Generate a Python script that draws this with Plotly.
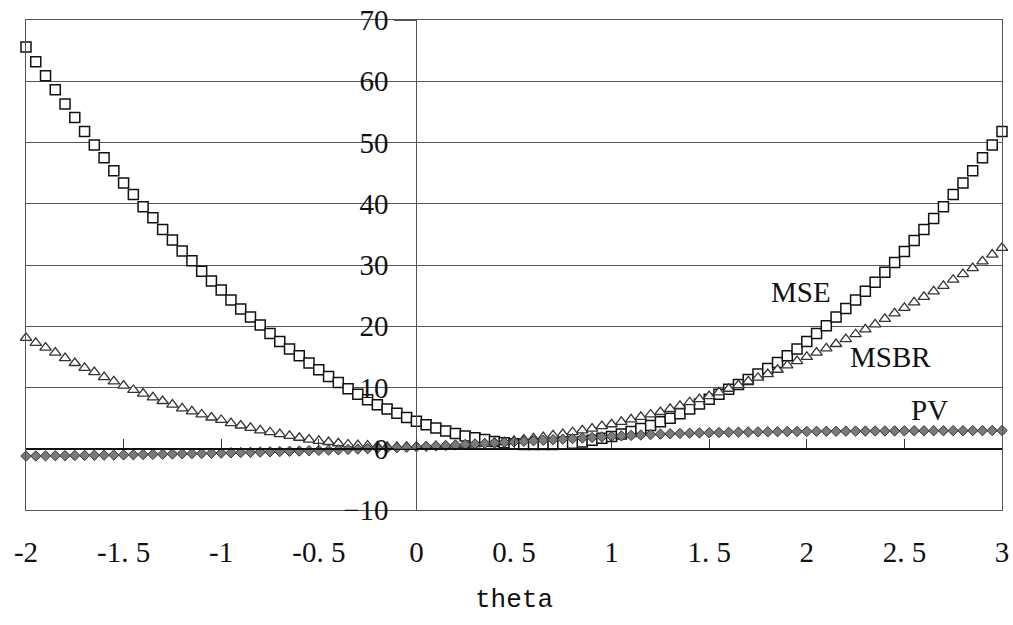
import plotly.graph_objects as go

theta = [round(-2 + 0.05 * i, 2) for i in range(101)]

mse = [65.6, 63.2, 60.9, 58.6, 56.3, 54.1, 51.8, 49.6, 47.5, 45.4,
       43.4, 41.5, 39.5, 37.7, 35.8, 34.1, 32.3, 30.7, 29.0, 27.4,
       25.9, 24.3, 22.8, 21.5, 20.2, 18.8, 17.5, 16.3, 15.2, 14.0,
       12.9, 11.8, 10.8, 9.8, 8.9, 8.0, 7.2, 6.5, 5.8, 5.1,
       4.5, 3.9, 3.4, 2.9, 2.5, 2.1, 1.8, 1.5, 1.2, 1.0,
       0.8, 0.7, 0.7, 0.7, 0.7, 0.8, 0.9, 1.1, 1.4, 1.7,
       2.0, 2.4, 2.8, 3.3, 3.8, 4.4, 5.0, 5.7, 6.5, 7.3,
       8.1, 8.9, 9.7, 10.5, 11.3, 12.2, 13.1, 14.1, 15.2, 16.3,
       17.5, 18.8, 20.1, 21.5, 22.9, 24.3, 25.7, 27.2, 28.8, 30.4,
       32.2, 34.0, 35.8, 37.6, 39.5, 41.5, 43.4, 45.4, 47.5, 49.6,
       51.8]

msbr = [18.1, 17.3, 16.5, 15.7, 14.8, 14.0, 13.2, 12.5, 11.7, 11.0,
        10.3, 9.6, 9.0, 8.4, 7.8, 7.2, 6.6, 6.1, 5.6, 5.1,
        4.7, 4.2, 3.8, 3.4, 3.0, 2.7, 2.4, 2.1, 1.8, 1.5,
        1.3, 1.1, 0.9, 0.7, 0.6, 0.5, 0.4, 0.3, 0.3, 0.3,
        0.3, 0.3, 0.4, 0.4, 0.5, 0.6, 0.7, 0.8, 1.0, 1.1,
        1.3, 1.5, 1.7, 1.9, 2.2, 2.4, 2.7, 3.0, 3.3, 3.7,
        4.0, 4.4, 4.8, 5.2, 5.6, 6.0, 6.5, 7.0, 7.6, 8.1,
        8.6, 9.2, 9.8, 10.4, 11.0, 11.6, 12.2, 12.9, 13.6, 14.3,
        15.0, 15.7, 16.4, 17.1, 17.9, 18.7, 19.5, 20.3, 21.2, 22.1,
        23.0, 23.9, 24.8, 25.7, 26.6, 27.6, 28.5, 29.5, 30.6, 31.7,
        32.8]

pv = [-1.20, -1.18, -1.16, -1.14, -1.12, -1.10, -1.08, -1.06, -1.04, -1.02,
      -1.00, -0.97, -0.94, -0.91, -0.88, -0.85, -0.82, -0.79, -0.76, -0.73,
      -0.70, -0.66, -0.62, -0.58, -0.54, -0.50, -0.46, -0.42, -0.37, -0.32,
      -0.27, -0.22, -0.17, -0.11, -0.05, 0.01, 0.07, 0.13, 0.19, 0.25,
      0.32, 0.39, 0.46, 0.53, 0.61, 0.69, 0.77, 0.85, 0.94, 1.03,
      1.12, 1.21, 1.30, 1.39, 1.48, 1.57, 1.66, 1.75, 1.84, 1.93,
      2.02, 2.10, 2.18, 2.25, 2.32, 2.38, 2.44, 2.49, 2.54, 2.58,
      2.62, 2.65, 2.68, 2.71, 2.73, 2.75, 2.77, 2.79, 2.81, 2.82,
      2.83, 2.84, 2.85, 2.86, 2.87, 2.88, 2.89, 2.90, 2.91, 2.91,
      2.92, 2.93, 2.93, 2.94, 2.94, 2.95, 2.95, 2.96, 2.96, 2.97,
      2.97]

x_tickvals = [-2, -1.5, -1, -0.5, 0, 0.5, 1, 1.5, 2, 2.5, 3]
x_ticktext = ["-2", "-1. 5", "-1", "-0. 5", "0", "0. 5", "1", "1. 5", "2", "2. 5", "3"]
y_tickvals = [-10, 0, 10, 20, 30, 40, 50, 60, 70]

series_labels = [("MSE", 1.97, 25.6), ("MSBR", 2.43, 14.9), ("PV", 2.63, 6.4)]

SERIF = "Liberation Serif, DejaVu Serif, serif"
GRID = "#555555"

fig = go.Figure()
fig.add_trace(go.Scatter(
    x=theta, y=mse, mode="markers", name="MSE", cliponaxis=False,
    marker=dict(symbol="square", size=10, color="white",
                line=dict(color="#111111", width=1.5))))
fig.add_trace(go.Scatter(
    x=theta, y=msbr, mode="markers", name="MSBR", cliponaxis=False,
    yaxis="y2",
    marker=dict(symbol="triangle-up", size=10, color="white",
                line=dict(color="#333333", width=1.3))))
fig.add_trace(go.Scatter(
    x=theta, y=pv, mode="markers", name="PV", cliponaxis=False,
    xaxis="x2",
    marker=dict(symbol="diamond", size=8, color="#7a7a7a",
                line=dict(color="#333333", width=1))))

for text, xv, yv in series_labels:
    fig.add_annotation(x=xv, y=yv, xref="x", yref="y", text=text,
                       showarrow=False,
                       font=dict(family=SERIF, size=29, color="#111111"))

fig.update_layout(
    width=1013, height=625,
    margin=dict(l=26, r=11, t=20, b=115, autoexpand=False),
    paper_bgcolor="white", plot_bgcolor="white",
    showlegend=False,
    xaxis=dict(
        range=[-2, 3], tickvals=x_tickvals, ticktext=x_ticktext,
        automargin=False,
        showgrid=False, zeroline=False,
        showline=True, mirror=True, linecolor=GRID, linewidth=1,
        ticks="outside", ticklen=16, tickcolor="rgba(0,0,0,0)",
        tickfont=dict(family=SERIF, size=29, color="#111111"),
        title=dict(text="theta", standoff=22,
                   font=dict(family="Liberation Mono, DejaVu Sans Mono, monospace",
                             size=26, color="#111111")),
    ),
    xaxis2=dict(
        range=[-2, 3], overlaying="x", anchor="free", position=0.125,
        side="bottom", showgrid=False, zeroline=False, automargin=False,
        showline=True, linecolor="#111111", linewidth=1.5,
        ticks="inside", ticklen=9, tickcolor="#333333", tickwidth=1,
        dtick=0.5, tick0=0, showticklabels=False,
    ),
    yaxis=dict(
        range=[-10, 70], tickvals=y_tickvals, automargin=False,
        anchor="free", position=0.4, side="left",
        showgrid=True, gridcolor=GRID, gridwidth=1, zeroline=False,
        showline=True, linecolor=GRID, linewidth=1,
        ticks="outside", ticklen=22, tickcolor=GRID,
        tickfont=dict(family=SERIF, size=29, color="#111111"),
    ),
    yaxis2=dict(
        range=[-10, 70], overlaying="y", anchor="x", side="left",
        showgrid=False, zeroline=False, showticklabels=False, automargin=False,
        showline=True, mirror=True, linecolor=GRID, linewidth=1,
    ),
)

fig.write_html("out.html")
